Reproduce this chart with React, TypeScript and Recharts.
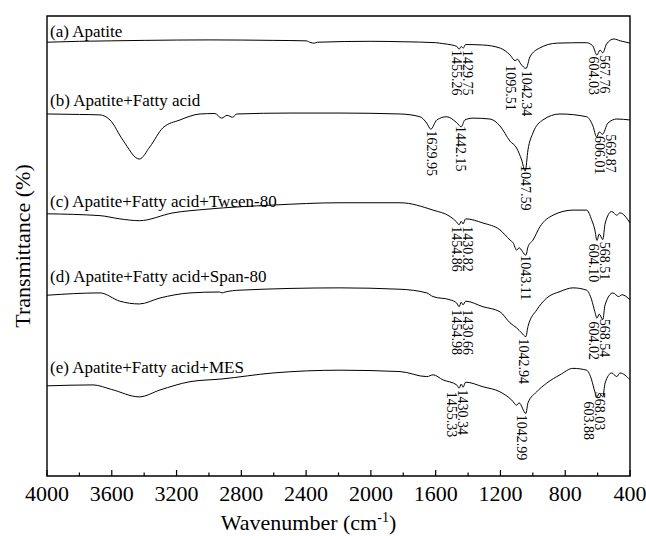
import { LineChart, Line, XAxis, YAxis, ReferenceArea, ReferenceDot } from "recharts";

const FONT = '"Liberation Serif", "Times New Roman", Times, serif';

// wavenumber (cm-1), transmittance (offset, arbitrary %)
const apatite = [
  [4000, 94.3], [3800, 94.5], [3600, 94.6], [3400, 94.7], [3000, 94.8], [2600, 94.7],
  [2400, 94.6], [2370, 94.2], [2350, 94.1], [2330, 94.3], [2000, 94.5], [1800, 94.4],
  [1600, 94.2], [1556, 94.0], [1500, 93.7], [1470, 93.4], [1455, 92.8], [1442, 93.4],
  [1430, 93.0], [1415, 93.8], [1310, 93.7], [1200, 93.0], [1140, 91.5], [1110, 90.3],
  [1095, 90.6], [1075, 89.6], [1042, 88.6], [1018, 91.1], [960, 93.0], [850, 94.1],
  [670, 94.2], [630, 93.5], [604, 91.5], [585, 92.6], [568, 92.0], [545, 93.9],
  [500, 95.0], [460, 94.6], [400, 94.1],
];

const fattyAcid = [
  [4000, 78.7], [3800, 78.6], [3673, 78.5], [3611, 77.4], [3531, 73.0], [3430, 68.9],
  [3364, 71.6], [3284, 75.7], [3179, 77.4], [3055, 78.7], [2963, 78.8], [2922, 77.8],
  [2888, 78.4], [2855, 78.0], [2827, 78.7], [2500, 78.9], [2191, 78.9], [1820, 78.7],
  [1697, 78.1], [1655, 76.7], [1630, 75.4], [1593, 77.4], [1532, 78.1], [1470, 76.8],
  [1442, 75.9], [1420, 77.4], [1369, 77.8], [1264, 77.6], [1203, 76.1], [1141, 72.8],
  [1100, 71.3], [1069, 68.7], [1047, 66.3], [1030, 70.9], [999, 74.6], [938, 77.4],
  [832, 78.7], [668, 78.1], [629, 76.1], [606, 73.7], [590, 74.8], [570, 74.3],
  [537, 76.7], [482, 77.6], [400, 77.4],
];

const tween80 = [
  [4000, 57.0], [3673, 56.6], [3550, 55.9], [3430, 55.5], [3222, 57.2], [3012, 58.0],
  [2604, 58.9], [2191, 59.4], [1820, 59.4], [1616, 57.8], [1511, 56.4], [1470, 55.2],
  [1455, 54.6], [1442, 55.4], [1431, 54.8], [1415, 55.9], [1308, 55.0], [1203, 53.5],
  [1141, 51.3], [1122, 50.7], [1100, 49.1], [1085, 49.6], [1043, 48.0], [1030, 49.8],
  [999, 51.3], [956, 54.2], [875, 56.7], [752, 57.8], [668, 57.8], [637, 55.7],
  [617, 53.5], [604, 51.2], [590, 52.6], [568, 51.4], [553, 55.0], [513, 57.5],
  [482, 56.7], [462, 57.2], [400, 55.0],
];

const span80 = [
  [4000, 39.3], [3673, 39.8], [3550, 38.0], [3430, 37.4], [3302, 38.7], [3117, 39.8],
  [2935, 40.0], [2919, 39.8], [2900, 40.0], [2808, 40.4], [2191, 40.9], [1820, 40.6],
  [1655, 39.8], [1616, 39.0], [1511, 38.3], [1470, 37.6], [1455, 36.8], [1442, 37.8],
  [1431, 37.2], [1415, 38.0], [1308, 36.8], [1203, 35.7], [1141, 33.3], [1100, 32.2],
  [1069, 31.1], [1043, 30.3], [1030, 32.5], [976, 36.1], [914, 38.7], [832, 40.1],
  [752, 40.9], [668, 40.4], [637, 38.3], [617, 35.7], [604, 34.3], [590, 35.2],
  [568, 34.0], [554, 37.2], [505, 39.8], [470, 39.0], [450, 39.4], [400, 38.3],
];

const mes = [
  [4000, 19.6], [3716, 19.8], [3600, 18.8], [3430, 17.2], [3302, 18.7], [3117, 20.5],
  [2919, 21.1], [2604, 22.4], [2191, 23.0], [1820, 22.7], [1655, 21.6], [1616, 22.0],
  [1555, 20.9], [1470, 19.8], [1455, 19.1], [1442, 20.0], [1431, 19.3], [1415, 20.4],
  [1308, 19.4], [1203, 18.3], [1130, 16.5], [1100, 15.4], [1085, 15.9], [1043, 13.6],
  [1030, 15.9], [976, 18.3], [914, 20.2], [832, 22.0], [752, 23.4], [668, 23.0],
  [637, 20.9], [617, 18.3], [604, 17.2], [590, 18.0], [568, 17.2], [554, 20.2],
  [513, 22.4], [482, 21.6], [462, 22.4], [400, 20.9],
];

const seriesNames = [
  "(a) Apatite",
  "(b) Apatite+Fatty acid",
  "(c) Apatite+Fatty acid+Tween-80",
  "(d) Apatite+Fatty acid+Span-80",
  "(e) Apatite+Fatty acid+MES",
];
const seriesData = [apatite, fattyAcid, tween80, span80, mes];

// peak labels per spectrum
const peaks = [
  ["1455.26", "1429.75", "1095.51", "1042.34", "604.03", "567.76"],
  ["1629.95", "1442.15", "1047.59", "606.01", "569.87"],
  ["1454.86", "1430.82", "1043.11", "604.10", "568.51"],
  ["1454.98", "1430.66", "1042.94", "604.02", "568.54"],
  ["1455.33", "1430.34", "1042.99", "603.88", "568.03"],
];

// layout: where each label starts (y value) and a horizontal nudge in px
const nameY = [96.6, 81.7, 59.6, 43.3, 23.5];
const peakLayout = [
  [[92.6, -3], [92.6, 4], [89.3, -7], [88.1, 1], [91.2, -3], [91.5, 2]],
  [[75.1, 1], [76.1, -1], [67.6, 0], [73.9, 3], [74.3, 8]],
  [[54.3, -3], [54.3, 4], [48.0, 0], [50.5, -3], [50.9, 2]],
  [[36.2, -3], [36.2, 4], [29.9, -2], [33.6, -3], [34.2, 2]],
  [[18.3, -8], [18.8, -1], [13.3, -4], [16.2, -8], [18.3, -3]],
];

const xTicks = [4000, 3800, 3600, 3400, 3200, 3000, 2800, 2600, 2400, 2200, 2000, 1800, 1600, 1400, 1200, 1000, 800, 600, 400];

const toRows = (pts: number[][]) => pts.map(([wn, t]) => ({ wn, t }));

function XTick(props: any) {
  const { x, y, payload } = props;
  const v = payload.value;
  const major = v % 400 === 0;
  return (
    <g>
      <line x1={x} x2={x} y1={y} y2={y - (major ? 6 : 3.5)} stroke="#000" strokeWidth={1.2} />
      {major && (
        <text x={x} y={y + 25} textAnchor="middle" fontSize={22} fontFamily={FONT} fill="#000">
          {v}
        </text>
      )}
    </g>
  );
}

function XTitle(props: any) {
  const { viewBox } = props;
  const cx = viewBox.x + viewBox.width / 2 - 30;
  return (
    <text x={cx} y={viewBox.y + 54} textAnchor="middle" fontSize={22} fontFamily={FONT} fill="#000">
      <tspan>Wavenumber (cm</tspan>
      <tspan dy={-8} fontSize={14}>-1</tspan>
      <tspan dy={8}>)</tspan>
    </text>
  );
}

function YTitle(props: any) {
  const { viewBox } = props;
  const cy = viewBox.y + viewBox.height / 2;
  return (
    <text
      x={22}
      y={cy}
      transform={`rotate(-90 22 ${cy})`}
      textAnchor="middle"
      dominantBaseline="central"
      fontSize={22}
      fontFamily={FONT}
      fill="#000"
    >
      Transmittance (%)
    </text>
  );
}

export default function App() {
  return (
    <div style={{ position: "absolute", left: 0, top: 0, width: 646, height: 536, background: "#fff" }}>
      <LineChart width={646} height={536} margin={{ top: 16, right: 16, left: 0, bottom: 0 }}>
        <XAxis
          type="number"
          dataKey="wn"
          domain={[400, 4000]}
          reversed
          ticks={xTicks}
          interval={0}
          tickSize={0}
          tickMargin={0}
          tickLine={false}
          axisLine={false}
          height={60}
          tick={XTick}
          allowDataOverflow
          label={{ content: XTitle }}
        />
        <YAxis
          type="number"
          domain={[0, 100]}
          width={47}
          tick={false}
          tickLine={false}
          axisLine={false}
          allowDataOverflow
          label={{ content: YTitle }}
        />
        {seriesData.map((pts, i) => (
          <Line
            key={seriesNames[i]}
            data={toRows(pts)}
            dataKey="t"
            type="monotone"
            stroke="#000"
            strokeWidth={1}
            dot={false}
            activeDot={false}
            isAnimationActive={false}
          />
        ))}
        <ReferenceArea
          x1={4000}
          x2={400}
          y1={0}
          y2={100}
          fill="none"
          stroke="#000"
          strokeWidth={1.4}
          ifOverflow="visible"
        />
        {seriesNames.map((name, i) => (
          <ReferenceDot
            key={"n" + i}
            x={4000}
            y={nameY[i]}
            r={0}
            ifOverflow="visible"
            shape={(p: any) => (
              <text x={p.cx + 3} y={p.cy} dominantBaseline="central" fontSize={17} fontFamily={FONT} fill="#000">
                {name}
              </text>
            )}
          />
        ))}
        {peaks.map((list, i) =>
          list.map((label, j) => {
            const [yTop, dx] = peakLayout[i][j];
            return (
              <ReferenceDot
                key={`p${i}-${j}`}
                x={parseFloat(label)}
                y={yTop}
                r={0}
                ifOverflow="visible"
                shape={(p: any) => {
                  const px = p.cx + dx;
                  return (
                    <text
                      x={px}
                      y={p.cy}
                      transform={`rotate(90 ${px} ${p.cy})`}
                      dominantBaseline="central"
                      fontSize={14}
                      fontFamily={FONT}
                      fill="#000"
                    >
                      {label}
                    </text>
                  );
                }}
              />
            );
          })
        )}
      </LineChart>
    </div>
  );
}
